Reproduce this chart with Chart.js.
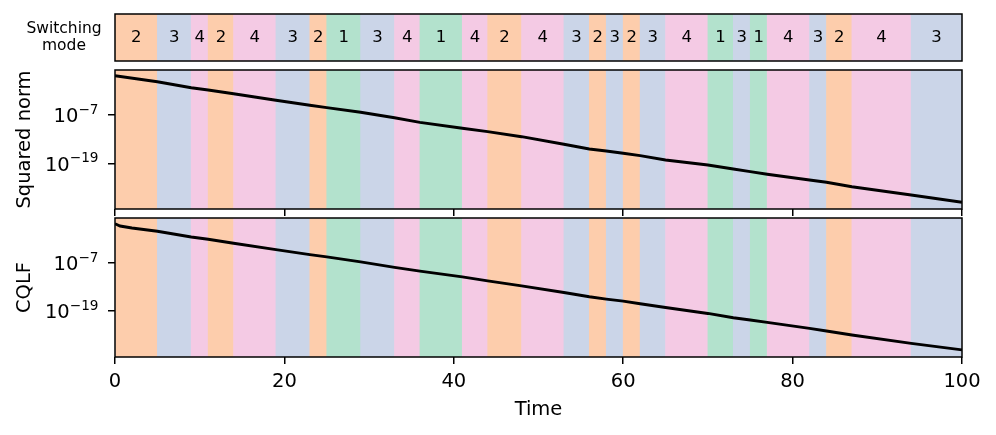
<!DOCTYPE html>
<html><head><meta charset="utf-8">
<script src="https://cdn.jsdelivr.net/npm/chart.js@4.4.1/dist/chart.umd.min.js"></script>
<style>
html,body{margin:0;padding:0;background:#fff;}
#wrap{position:relative;width:996px;height:435px;overflow:hidden;background:#fff;}
canvas{position:absolute;left:0;}
</style></head><body>
<div id="wrap">
<canvas id="cStrip" style="top:0px"></canvas>
<canvas id="cNorm" style="top:62px"></canvas>
<canvas id="cCqlf" style="top:212px"></canvas>
</div>
<script>
// ---- data ----
const segStart = [0,5,9,11,14,19,23,25,29,33,36,41,44,48,53,56,58,60,62,65,70,73,75,77,82,84,87,94];
const segEnd   = [5,9,11,14,19,23,25,29,33,36,41,44,48,53,56,58,60,62,65,70,73,75,77,82,84,87,94,100];
const segMode  = [2,3,4,2,4,3,2,1,3,4,1,4,2,4,3,2,3,2,3,4,1,3,1,4,3,2,4,3];

const normTime = [0,5,9,11,14,19,23,25,29,33,36,41,44,48,53,56,58,60,62,65,70,73,75,77,82,84,87,94,100];
const normExp  = [2.73,1.24,-0.24,-0.81,-1.73,-3.36,-4.60,-5.19,-6.33,-7.67,-8.81,-10.29,-11.13,-12.37,-14.25,-15.42,-15.91,-16.48,-17.07,-18.14,-19.38,-20.37,-21.03,-21.68,-23.09,-23.66,-24.75,-26.80,-28.61];

const cqlfTime = [0,0.6,2,5,9,11,14,19,23,25,29,33,36,41,44,48,53,56,58,60,62,65,70,73,75,77,82,84,87,94,100];
const cqlfExp  = [2.75,2.18,1.68,0.87,-0.55,-1.12,-2.11,-3.70,-4.94,-5.51,-6.75,-8.12,-9.06,-10.47,-11.47,-12.71,-14.37,-15.44,-16.01,-16.50,-17.17,-18.09,-19.58,-20.65,-21.22,-21.81,-23.30,-23.95,-24.94,-27.03,-28.66];

const xTicks = [0,20,40,60,80,100];
const yTickValues = [1e-19, 1e-7];
const yTickBase = ['10', '10'];
const yTickExp  = ['\u221219', '\u22127'];
const modeColors = {1:'#b3e2cd', 2:'#fdcdac', 3:'#cbd5e8', 4:'#f4cae4'};

// ---- setup ----
Chart.defaults.font.family = "'DejaVu Sans'";
Chart.defaults.color = '#000';
Chart.defaults.animation = false;
Chart.defaults.plugins.legend.display = false;
Chart.defaults.plugins.tooltip.enabled = false;

const FS = 19.5;

function sizeCanvas(id, h){
  const c = document.getElementById(id);
  c.width = 996; c.height = h;
  c.style.width = '996px'; c.style.height = h + 'px';
  return c;
}

function bandDataset(){
  return {
    type:'bar', indexAxis:'y', xAxisID:'x', yAxisID:'yb', order:2,
    data: segStart.map((s,i)=>({x:[s, segEnd[i]], y:'band'})),
    backgroundColor: segMode.map(m=>modeColors[m]),
    borderWidth:0, barPercentage:1, categoryPercentage:1, grouped:false
  };
}
function lineDataset(times, exps){
  return {
    type:'line', xAxisID:'x', yAxisID:'y', order:1,
    data: times.map((t,i)=>({x:t, y:Math.pow(10, exps[i])})),
    borderColor:'#000', borderWidth:2.9, pointRadius:0, tension:0, fill:false
  };
}
const framePlugin = {
  id:'frame',
  afterDatasetsDraw(chart){
    const {ctx, chartArea:a} = chart;
    ctx.save();
    ctx.strokeStyle = '#000'; ctx.lineWidth = 1.5;
    ctx.strokeRect(a.left, a.top, a.right-a.left, a.bottom-a.top);
    ctx.restore();
  }
};
// mathtext-like y tick labels (10 with superscript exponent)
const yLabelPlugin = {
  id:'yLabels',
  afterDraw(chart){
    const {ctx, scales:{y}} = chart;
    if (!y) return;
    ctx.save();
    ctx.fillStyle = '#000';
    ctx.textBaseline = 'alphabetic';
    const right = 98.5;
    yTickValues.forEach((v,i)=>{
      const py = y.getPixelForValue(v);
      ctx.font = (FS*0.7) + "px 'DejaVu Sans'";
      const ew = ctx.measureText(yTickExp[i]).width;
      ctx.font = FS + "px 'DejaVu Sans'";
      const bw = ctx.measureText(yTickBase[i]).width;
      const x0 = right - ew - bw;
      const base = py + 7.3;
      ctx.textAlign = 'left';
      ctx.fillText(yTickBase[i], x0, base);
      ctx.font = (FS*0.7) + "px 'DejaVu Sans'";
      ctx.fillText(yTickExp[i], x0 + bw, base - 8.3);
    });
    ctx.restore();
  }
};
const bandScale = {type:'category', labels:['band'], offset:true, display:false};

function xScale(extra){
  return Object.assign({
    type:'linear', min:0, max:100, offset:false,
    afterBuildTicks(s){ s.ticks = xTicks.map(v=>({value:v})); },
    border:{display:false},
    grid:{drawOnChartArea:false, drawTicks:true, tickLength:7, color:'#000', lineWidth:1.5, offset:false}
  }, extra);
}
function yScale(title, minExp, maxExp){
  return {
    type:'logarithmic', position:'left',
    min: Math.pow(10, minExp), max: Math.pow(10, maxExp),
    afterBuildTicks(s){ s.ticks = yTickValues.map(v=>({value:v})); },
    afterFit(s){ s.width = 115; s.paddingTop = 0; s.paddingBottom = 0; },
    ticks:{ display:false, autoSkip:false },
    grid:{ drawOnChartArea:false, drawTicks:true, tickLength:7, color:'#000', lineWidth:1.5 },
    border:{display:false},
    title:{display:true, text:title, font:{size:FS}, padding:{top:13.3, bottom:0}}
  };
}

// ---- strip ----
const stripLabels = {
  id:'stripLabels',
  afterDatasetsDraw(chart){
    const {ctx, chartArea:a, scales:{x}} = chart;
    ctx.save();
    ctx.fillStyle = '#000';
    ctx.textAlign = 'center'; ctx.textBaseline = 'middle';
    ctx.font = "16.5px 'DejaVu Sans'";
    const cy = (a.top + a.bottom)/2 + 0.5;
    segMode.forEach((m,i)=>{
      ctx.fillText(String(m), x.getPixelForValue((segStart[i]+segEnd[i])/2), cy);
    });
    ctx.font = "15.5px 'DejaVu Sans'";
    ctx.fillText('Switching', 64, 29);
    ctx.fillText('mode', 64, 46);
    ctx.restore();
  }
};
new Chart(sizeCanvas('cStrip', 66), {
  type:'line',
  data:{datasets:[bandDataset()]},
  options:{
    responsive:false, devicePixelRatio:1,
    layout:{padding:{left:115, right:34, top:14, bottom:5}},
    scales:{ x: Object.assign(xScale({}), {display:false}), yb: bandScale }
  },
  plugins:[framePlugin, stripLabels]
});

// ---- squared norm ----
new Chart(sizeCanvas('cNorm', 155), {
  type:'line',
  data:{datasets:[bandDataset(), lineDataset(normTime, normExp)]},
  options:{
    responsive:false, devicePixelRatio:1,
    layout:{padding:{left:0, right:34, top:8, bottom:0}},
    scales:{
      x: xScale({ ticks:{display:false}, afterFit(s){ s.height = 8; s.paddingLeft = 0; s.paddingRight = 0; } }),
      y: yScale('Squared norm', -30.27, 4.14),
      yb: bandScale
    }
  },
  plugins:[framePlugin, yLabelPlugin]
});

// ---- CQLF ----
new Chart(sizeCanvas('cCqlf', 223), {
  type:'line',
  data:{datasets:[bandDataset(), lineDataset(cqlfTime, cqlfExp)]},
  options:{
    responsive:false, devicePixelRatio:1,
    layout:{padding:{left:0, right:34, top:6, bottom:0}},
    scales:{
      x: xScale({
        ticks:{font:{size:FS}, padding:6, autoSkip:false, maxRotation:0},
        afterFit(s){ s.height = 78; },
        title:{display:true, text:'Time', font:{size:FS}, padding:{top:0, bottom:13}}
      }),
      y: yScale('CQLF', -30.42, 4.17),
      yb: bandScale
    }
  },
  plugins:[framePlugin, yLabelPlugin]
});
</script>
</body></html>
